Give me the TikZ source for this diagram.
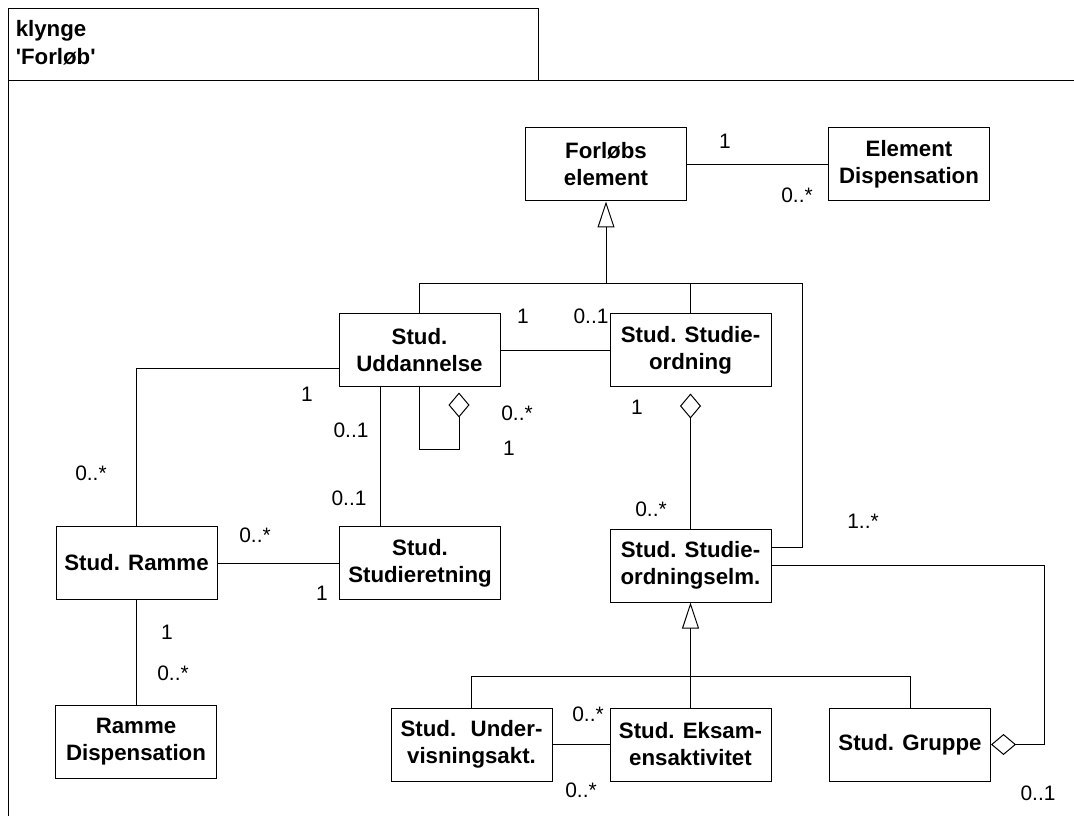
\documentclass[tikz,border=0pt]{standalone}
\usepackage{fontspec}
\setmainfont{Liberation Sans}
\usetikzlibrary{arrows.meta,calc}

\tikzset{
  cls/.style={draw, line width=0.75pt, minimum width=120.75pt, minimum height=54.75pt,
    align=center, inner sep=0pt, font=\bfseries\fontsize{16.7}{20.2}\selectfont},
  mult/.style={inner sep=0pt, font=\fontsize{15.7}{19}\selectfont},
  ttl/.style={anchor=base west, inner sep=0pt, font=\bfseries\fontsize{16.7}{20.2}\selectfont},
  link/.style={line width=0.75pt},
  gen/.style={link, -{Triangle[open,length=19.5pt,width=12.75pt]}},
  aggr/.style={link, -{Diamond[open,length=18.75pt,width=15.75pt]}},
}

\begin{document}
\begin{tikzpicture}[x=0.75pt, y=-0.75pt]
\useasboundingbox (0,0) rectangle (1074,816);

% package frame with its name tab
\draw[link] (8.5,816) -- (8.5,8.5) -- (538.5,8.5) -- (538.5,80.5);
\draw[link] (8.5,80.5) -- (1074,80.5);
\node[ttl] (ttl1) at (15.5,37) {klynge};
\node[ttl] (ttl2) at (15.5,65) {\textquotesingle Forløb\textquotesingle};

% classes
\node[cls] (forl)   at (606,164.5)   {Forløbs\\element};
\node[cls] (edisp)  at (909,164.5)   {Element\\Dispensation};
\node[cls] (udd)    at (419.5,350.5) {Stud.\\Uddannelse};
\node[cls] (sord)   at (690.5,350.5) {Stud. Studie-\\ordning};
\node[cls] (ramme)  at (136.5,563)   {Stud. Ramme};
\node[cls] (sret)   at (420,563)     {Stud.\\Studieretning};
\node[cls] (sordelm) at (690.5,565.5) {Stud. Studie-\\ordningselm.};
\node[cls] (rdisp)  at (136,742)     {Ramme\\Dispensation};
\node[cls] (underv) at (471.5,744.5) {Stud.~ Under-\\visningsakt.};
\node[cls] (eksam)  at (690.5,744.5) {Stud. Eksam-\\ensaktivitet};
\node[cls] (gruppe) at (910,744.5)   {Stud. Gruppe};

% generalisation tree below Forløbs element
\coordinate (g1)  at (606,283.5);
\coordinate (g1r) at (802.5,283.5);
\draw[gen] (g1) -- (forl.south);
\draw[link] (udd.north) |- (g1r) |- ($(sordelm.east)+(0,-18.5)$);
\draw[link] (sord.north) -- (sord.north |- g1);

% generalisation tree below Stud. Studieordningselm.
\coordinate (g2) at (690.5,676.5);
\draw[gen] (g2) -- (sordelm.south);
\draw[link] (underv.north) |- (gruppe.north |- g2) -- (gruppe.north);
\draw[link] (eksam.north) -- (g2);

% associations
\draw[link] (forl.east) -- (edisp.west);
\draw[link] (udd.east) -- (sord.west);
\draw[link] ($(udd.south)+(-39,0)$) -- ($(sret.north)+(-39.5,0)$);
\draw[link] ($(udd.west)+(0,18.5)$) -| (ramme.north);
\draw[link] ($(ramme.east)+(0,0.5)$) -- ($(sret.west)+(0,0.5)$);
\draw[link] (ramme.south) -- (ramme.south |- rdisp.north);
\draw[link] (underv.east) -- (eksam.west);

% aggregations
\draw[aggr] (udd.south) |- ($(udd.south)+(39.5,62)$) -- ($(udd.south)+(39.5,5)$);
\draw[aggr] (sordelm.north) -- ($(sord.south)+(0,6)$);
\draw[aggr] (sordelm.east) -| ($(gruppe.east)+(53,0)$) -- (gruppe.east);

% multiplicities
\node[mult] (m01) at (725,141)  {1};
\node[mult] (m02) at (797,195)  {0..*};
\node[mult] (m03) at (523,316)  {1};
\node[mult] (m04) at (591,316)  {0..1};
\node[mult] (m05) at (517,413)  {0..*};
\node[mult] (m06) at (509,448)  {1};
\node[mult] (m07) at (307,394)  {1};
\node[mult] (m08) at (351,430)  {0..1};
\node[mult] (m09) at (349,498)  {0..1};
\node[mult] (m10) at (91,473)   {0..*};
\node[mult] (m11) at (255,535)  {0..*};
\node[mult] (m12) at (322,593)  {1};
\node[mult] (m13) at (167,632)  {1};
\node[mult] (m14) at (173,673)  {0..*};
\node[mult] (m15) at (637,407)  {1};
\node[mult] (m16) at (651,509)  {0..*};
\node[mult] (m17) at (863,521)  {1..*};
\node[mult] (m18) at (588,714)  {0..*};
\node[mult] (m19) at (581,790)  {0..*};
\node[mult] (m20) at (1038,793) {0..1};
\end{tikzpicture}
\end{document}
